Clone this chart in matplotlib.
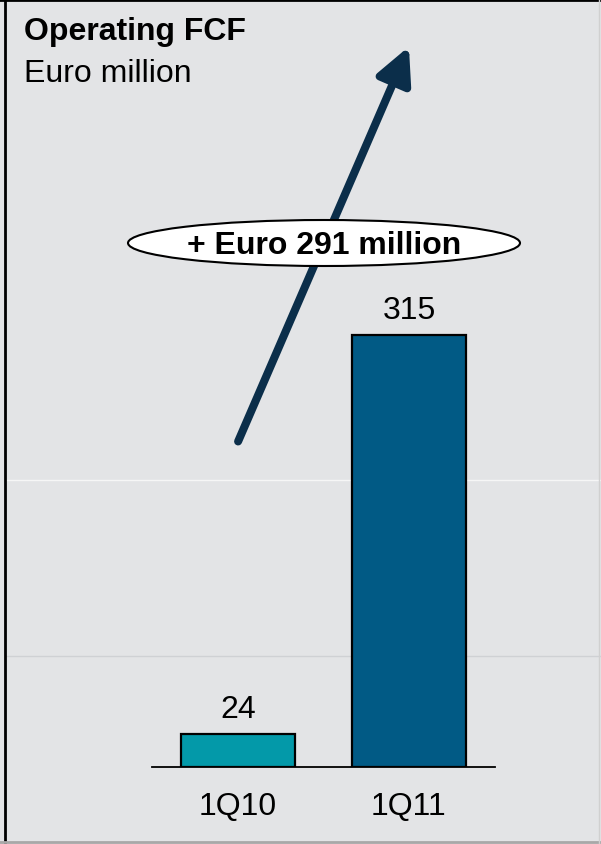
import matplotlib.pyplot as plt
from matplotlib.patches import Ellipse, FancyArrowPatch
from matplotlib.lines import Line2D

# ============================================================
# Data
# ============================================================

quarters = ["1Q10", "1Q11"]
operating_fcf = [24, 315]
bar_colors = ["#0399a9", "#015a85"]
change_label = "+ Euro 291 million"

W, H = 601, 845
BG = "#e3e4e6"

plt.rcParams["font.family"] = ["Liberation Sans", "DejaVu Sans"]

fig = plt.figure(figsize=(W / 100, H / 100), dpi=100, facecolor=BG)


def fx(px):
    return px / W


def fy(py):
    return 1 - py / H


# faint slide lines behind the chart
fig.add_artist(Line2D([fx(5), 1], [fy(481), fy(481)], color="#f6f6f6", lw=1.0, zorder=0))
fig.add_artist(Line2D([fx(5), 1], [fy(657), fy(657)], color="#cfd1d4", lw=1.0, zorder=0))

# frame
fig.add_artist(Line2D([fx(5), fx(5)], [0, 1], color="black", lw=2.0))
fig.add_artist(Line2D([0, 1], [fy(0.5), fy(0.5)], color="black", lw=2.0))
fig.add_artist(Line2D([0, 1], [fy(843), fy(843)], color="#a8a8a8", lw=2.0))
fig.add_artist(Line2D([fx(599), fx(599)], [0, 1], color="#d0d0d0", lw=1.0))

# ============================================================
# Bars
# ============================================================

ax = fig.add_axes([fx(152), fy(768), fx(495) - fx(152), fy(46) - fy(768)])
ax.patch.set_visible(False)

x = range(len(quarters))
bars = ax.bar(x, operating_fcf, width=0.67, color=bar_colors,
              edgecolor="black", linewidth=1.6, zorder=3)

ax.set_xlim(-0.503, 1.503)
ax.set_ylim(0, 526.5)

for rect, v in zip(bars, operating_fcf):
    ax.annotate(str(v), (rect.get_x() + rect.get_width() / 2, v),
                xytext=(0, 7.5), textcoords="offset points",
                ha="center", va="bottom", fontsize=23)

for s in ["top", "right", "left"]:
    ax.spines[s].set_visible(False)
ax.spines["bottom"].set_linewidth(1.3)
ax.spines["bottom"].set_zorder(4)
ax.set_yticks([])
ax.set_xticks(list(x))
ax.set_xticklabels(quarters, fontsize=23)
ax.tick_params(axis="x", length=0, pad=17)

# ============================================================
# Title, growth arrow and label
# ============================================================

fig.text(fx(24), fy(40), "Operating FCF", fontsize=23, fontweight="bold", va="baseline")
fig.text(fx(24), fy(82), "Euro million", fontsize=23, va="baseline")

fig.add_artist(FancyArrowPatch(
    (fx(237), fy(445)), (fx(410), fy(45)), transform=fig.transFigure,
    arrowstyle="-|>,head_length=0.9,head_width=0.45", mutation_scale=24,
    color="#0b2e4a", lw=5.8, zorder=5))

fig.add_artist(Ellipse((fx(324), fy(244)), fx(392), 46 / H,
                       transform=fig.transFigure, facecolor="white",
                       edgecolor="black", lw=1.5, zorder=6))
fig.text(fx(324), fy(246), change_label, fontsize=23, fontweight="bold",
         ha="center", va="center", zorder=7)

fig.savefig("out.png", dpi=100, facecolor=BG)
